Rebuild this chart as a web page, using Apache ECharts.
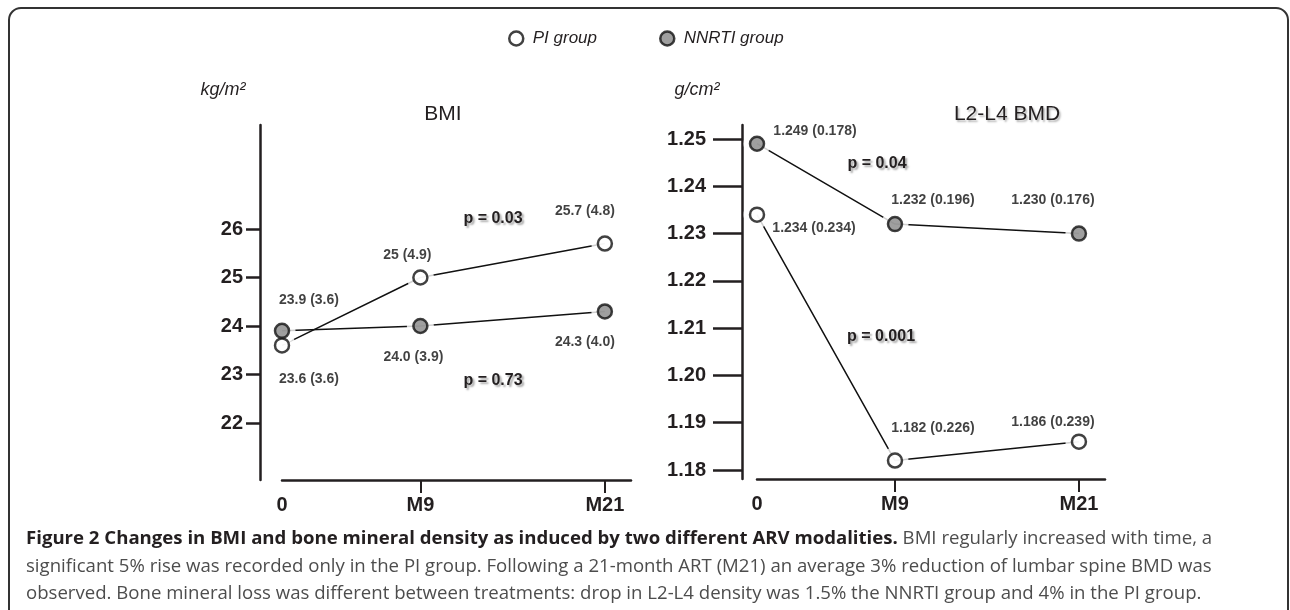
<!DOCTYPE html>
<html>
<head>
<meta charset="utf-8">
<script src="https://cdn.jsdelivr.net/npm/echarts@6/dist/echarts.min.js"></script>
<style>
html, body { margin: 0; padding: 0; background: #fff; }
#main { width: 1290px; height: 610px; }
</style>
</head>
<body>
<div id="main"></div>
<script>
// time points (months) and their tick labels
var months = [0, 9, 21];
var timeLabels = ['0', 'M9', 'M21'];

// BMI, kg/m2
var bmiPI = [23.6, 25.0, 25.7];
var bmiNNRTI = [23.9, 24.0, 24.3];
var bmiPIText = ['23.6 (3.6)', '25 (4.9)', '25.7 (4.8)'];
var bmiNNRTIText = ['23.9 (3.6)', '24.0 (3.9)', '24.3 (4.0)'];
var bmiTicks = [22, 23, 24, 25, 26];

// L2-L4 BMD, g/cm2
var bmdPI = [1.234, 1.182, 1.186];
var bmdNNRTI = [1.249, 1.232, 1.230];
var bmdPIText = ['1.234 (0.234)', '1.182 (0.226)', '1.186 (0.239)'];
var bmdNNRTIText = ['1.249 (0.178)', '1.232 (0.196)', '1.230 (0.176)'];
var bmdTicks = [1.18, 1.19, 1.20, 1.21, 1.22, 1.23, 1.24, 1.25];

// label offsets (px) next to each point
var offBmiPI = [[27, 34], [-13, -22], [-20, -32]];
var offBmiNN = [[27, -31], [-7, 31], [-20, 31]];
var offBmdPI = [[57, 13], [38, -32], [-26, -20]];
var offBmdNN = [[58, -13], [38, -24], [-26, -33]];

var FONT = "'Liberation Sans', Arial, sans-serif";
var INK = '#231f20';
var GREY = '#878787';

function pts(vals) {
	return months.map(function(m, i) { return [m, vals[i]]; });
}

//一组数据：连线 + 白色遮罩（让线在点附近断开） + 圆点
function group(idx, name, vals, texts, offs, fill) {
	var line = {
		type: 'line',
		name: name + ' line',
		xAxisIndex: idx,
		yAxisIndex: idx,
		data: pts(vals),
		symbol: 'none',
		silent: true,
		lineStyle: { color: '#111', width: 1.5 },
		z: 2
	};
	var mask = {
		type: 'scatter',
		name: name + ' mask',
		xAxisIndex: idx,
		yAxisIndex: idx,
		data: pts(vals),
		symbolSize: 27,
		silent: true,
		itemStyle: { color: '#fff' },
		z: 3
	};
	var dots = {
		type: 'scatter',
		name: name,
		xAxisIndex: idx,
		yAxisIndex: idx,
		symbolSize: 14,
		itemStyle: { color: fill, borderColor: '#111', borderWidth: 2.5 },
		label: {
			show: true,
			position: 'inside',
			color: '#111',
			fontFamily: FONT,
			fontWeight: 'bold',
			fontSize: 14
		},
		data: months.map(function(m, i) {
			return {
				value: [m, vals[i]],
				label: { offset: offs[i], formatter: texts[i] }
			};
		}),
		z: 4
	};
	return [line, mask, dots];
}

function xAxis(idx) {
	return {
		gridIndex: idx,
		type: 'value',
		min: 0,
		max: 22.7,
		axisLine: { onZero: false, lineStyle: { color: INK, width: 2.5 } },
		axisTick: { show: true, customValues: [9, 21], length: 13, lineStyle: { color: INK, width: 2 } },
		axisLabel: {
			customValues: months,
			formatter: function(v) { return timeLabels[months.indexOf(v)]; },
			margin: 15,
			color: INK,
			fontFamily: FONT,
			fontWeight: 'bold',
			fontSize: 20
		},
		splitLine: { show: false }
	};
}

function yAxis(idx, min, max, ticks, off, tickLen, margin, fmt) {
	return {
		gridIndex: idx,
		type: 'value',
		min: min,
		max: max,
		offset: off,
		axisLine: { show: true, onZero: false, lineStyle: { color: INK, width: 2.5 } },
		axisTick: { show: true, customValues: ticks, length: tickLen, lineStyle: { color: INK, width: 2.5 } },
		axisLabel: {
			customValues: ticks,
			formatter: fmt,
			margin: margin,
			color: INK,
			fontFamily: FONT,
			fontWeight: 'bold',
			fontSize: 20
		},
		splitLine: { show: false }
	};
}

function note(x, y, txt) {
	return {
		type: 'text',
		x: x,
		y: y,
		silent: true,
		style: {
			text: txt,
			align: 'center',
			verticalAlign: 'middle',
			fill: INK,
			font: 'bold 16px ' + FONT,
			textShadowColor: 'rgba(0,0,0,0.35)',
			textShadowBlur: 2,
			textShadowOffsetX: 2,
			textShadowOffsetY: 2
		}
	};
}

function unit(x, y, txt) {
	return {
		type: 'text',
		x: x,
		y: y,
		silent: true,
		style: {
			text: txt,
			align: 'center',
			verticalAlign: 'middle',
			fill: INK,
			font: 'italic 18px ' + FONT
		}
	};
}

var capLine = function(y, rich) {
	return {
		type: 'text',
		x: 26,
		y: y,
		silent: true,
		style: {
			text: rich,
			verticalAlign: 'middle',
			rich: {
				b: { fontFamily: "'Open Sans', sans-serif", fontWeight: 'bold', fontSize: 18.6, fill: INK },
				n: { fontFamily: "'Open Sans', sans-serif", fontSize: 18.6, fill: '#4d4d4d' }
			}
		}
	};
};

var series = []
	.concat(group(0, 'PI group', bmiPI, bmiPIText, offBmiPI, '#fff'))
	.concat(group(0, 'NNRTI group', bmiNNRTI, bmiNNRTIText, offBmiNN, GREY))
	.concat(group(1, 'PI group', bmdPI, bmdPIText, offBmdPI, '#fff'))
	.concat(group(1, 'NNRTI group', bmdNNRTI, bmdNNRTIText, offBmdNN, GREY));

var myChart = echarts.init(document.getElementById('main'));
var option = {
	backgroundColor: '#fff',
	animation: false,
	title: [{
		text: 'BMI',
		left: 443,
		top: 104,
		textAlign: 'center',
		padding: 0,
		textStyle: { fontFamily: FONT, fontWeight: 'normal', fontSize: 21, color: INK }
	}, {
		text: 'L2-L4 BMD',
		left: 1007,
		top: 104,
		textAlign: 'center',
		padding: 0,
		textStyle: {
			fontFamily: FONT, fontWeight: 'normal', fontSize: 21, color: INK,
			textShadowColor: 'rgba(0,0,0,0.3)', textShadowBlur: 2, textShadowOffsetX: 1.5, textShadowOffsetY: 1.5
		}
	}],
	legend: {
		data: ['PI group', 'NNRTI group'],
		left: 503,
		top: 25,
		icon: 'circle',
		itemWidth: 23,
		itemHeight: 14,
		itemGap: 62,
		selectedMode: false,
		itemStyle: { borderColor: '#111', borderWidth: 2.5 },
		textStyle: { fontFamily: FONT, fontStyle: 'italic', fontSize: 17, color: INK }
	},
	grid: [
		{ left: 282, top: 125, width: 349, bottom: 130 },
		{ left: 757, top: 125, width: 348, bottom: 131 }
	],
	xAxis: [xAxis(0), xAxis(1)],
	yAxis: [
		yAxis(0, 20.825, 28.144, bmiTicks, 22, 14, 17, function(v) { return String(v); }),
		yAxis(1, 1.1781, 1.25296, bmdTicks, 15, 29, 36, function(v) { return v.toFixed(2); })
	],
	series: series,
	graphic: [
		{
			type: 'rect',
			silent: true,
			shape: { x: 9, y: 8, width: 1279, height: 660, r: 12 },
			style: { fill: 'none', stroke: '#333', lineWidth: 2 }
		},
		unit(223, 90, 'kg/m²'),
		unit(697, 90, 'g/cm²'),
		note(493, 219, 'p = 0.03'),
		note(493, 381, 'p = 0.73'),
		note(877, 164, 'p = 0.04'),
		note(881, 337, 'p = 0.001'),
		capLine(539, '{b|Figure 2 Changes in BMI and bone mineral density as induced by two different ARV modalities.}{n| BMI regularly increased with time, a}'),
		capLine(567, '{n|significant 5% rise was recorded only in the PI group. Following a 21-month ART (M21) an average 3% reduction of lumbar spine BMD was}'),
		capLine(594, '{n|observed. Bone mineral loss was different between treatments: drop in L2-L4 density was 1.5% the NNRTI group and 4% in the PI group.}')
	]
};
myChart.setOption(option);
</script>
</body>
</html>
